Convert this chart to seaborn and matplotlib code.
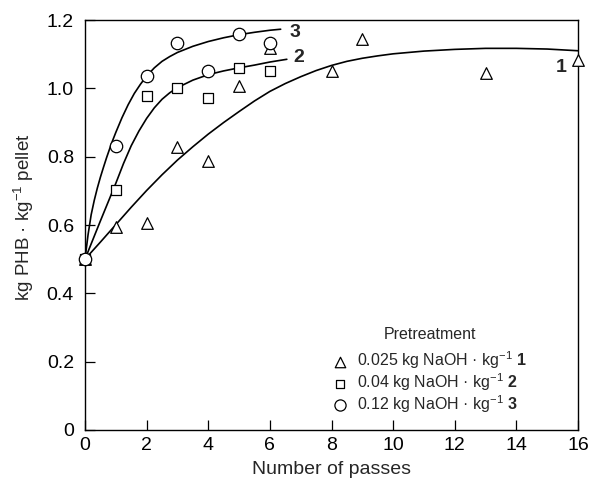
import matplotlib
matplotlib.use("Agg")
import matplotlib.pyplot as plt
import pandas as pd
import seaborn as sns

# Measured PHB yield after each homogenizer pass, per NaOH pretreatment
passes_1 = [0, 1, 2, 3, 4, 5, 6, 8, 9, 13, 16]
phb_1 = [0.50, 0.595, 0.605, 0.829, 0.786, 1.008, 1.117, 1.051, 1.144, 1.044, 1.083]
passes_2 = [0, 1, 2, 3, 4, 5, 6]
phb_2 = [0.50, 0.702, 0.978, 1.000, 0.973, 1.060, 1.051]
passes_3 = [0, 1, 2, 3, 4, 5, 6]
phb_3 = [0.50, 0.832, 1.036, 1.132, 1.051, 1.158, 1.132]

# Trend curves drawn through each series
trend_x_1 = [0, 0.5, 1.0, 1.5, 2.0, 2.5, 3.0, 3.5, 4.0, 4.5, 5.0, 5.5, 6.0, 6.5,
             7.0, 7.5, 8.0, 8.5, 9.0, 9.5, 10.0, 11.0, 12.0, 13.0, 14.0, 15.0, 16.0]
trend_y_1 = [0.500, 0.550, 0.601, 0.652, 0.701, 0.747, 0.790, 0.829, 0.866, 0.900,
             0.932, 0.963, 0.991, 1.014, 1.034, 1.052, 1.067, 1.079, 1.088, 1.095,
             1.101, 1.109, 1.114, 1.117, 1.117, 1.115, 1.110]
trend_x_2 = [0, 0.25, 0.5, 0.75, 1.0, 1.25, 1.5, 1.75, 2.0, 2.25, 2.5, 2.75, 3.0,
             3.5, 4.0, 4.5, 5.0, 5.5, 6.0, 6.55]
trend_y_2 = [0.500, 0.556, 0.612, 0.667, 0.722, 0.780, 0.832, 0.875, 0.912, 0.943,
             0.968, 0.987, 1.002, 1.024, 1.040, 1.051, 1.060, 1.068, 1.077, 1.085]
trend_x_3 = [0, 0.1, 0.2, 0.3, 0.4, 0.5, 0.6, 0.7, 0.8, 0.9, 1.0, 1.2, 1.4, 1.6,
             1.8, 2.0, 2.25, 2.5, 2.75, 3.0, 3.5, 4.0, 4.5, 5.0, 5.5, 6.0, 6.35]
trend_y_3 = [0.500, 0.572, 0.630, 0.672, 0.708, 0.740, 0.769, 0.797, 0.823, 0.848,
             0.871, 0.914, 0.952, 0.985, 1.012, 1.036, 1.060, 1.079, 1.093, 1.105,
             1.123, 1.137, 1.148, 1.157, 1.164, 1.170, 1.173]

legend_title = "Pretreatment"
legend_labels = [
    r"0.025 kg NaOH · kg$^{-1}$ $\mathbf{1}$",
    r"0.04 kg NaOH · kg$^{-1}$ $\mathbf{2}$",
    r"0.12 kg NaOH · kg$^{-1}$ $\mathbf{3}$",
]
curve_names = ["1", "2", "3"]
curve_name_x = [15.45, 6.95, 6.8]
curve_name_y = [1.06, 1.089, 1.162]

x_ticks = [0, 2, 4, 6, 8, 10, 12, 14, 16]
y_ticks = [0, 0.2, 0.4, 0.6, 0.8, 1.0, 1.2]
y_tick_labels = ["0", "0.2", "0.4", "0.6", "0.8", "1.0", "1.2"]

sns.set_style("ticks")
plt.rcParams["font.family"] = ["Liberation Sans", "DejaVu Sans"]
plt.rcParams["mathtext.fontset"] = "custom"
plt.rcParams["mathtext.rm"] = "Liberation Sans"
plt.rcParams["mathtext.it"] = "Liberation Sans:italic"
plt.rcParams["mathtext.bf"] = "Liberation Sans:bold"

fig = plt.figure(figsize=(5.98, 4.80), dpi=100)
ax = fig.add_axes([85 / 598, 50 / 480, 493 / 598, 410 / 480])

trends = [
    pd.DataFrame({"x": trend_x_1, "y": trend_y_1}),
    pd.DataFrame({"x": trend_x_2, "y": trend_y_2}),
    pd.DataFrame({"x": trend_x_3, "y": trend_y_3}),
]
for df in trends:
    sns.lineplot(data=df, x="x", y="y", ax=ax, color="black", linewidth=1.2,
                 sort=False, estimator=None, zorder=3)

series = [
    (pd.DataFrame({"x": passes_1, "y": phb_1}), "^", 70),
    (pd.DataFrame({"x": passes_2, "y": phb_2}), "s", 46),
    (pd.DataFrame({"x": passes_3, "y": phb_3}), "o", 80),
]
for (df, mk, size), lab in zip(series, legend_labels):
    sns.scatterplot(data=df, x="x", y="y", ax=ax, marker=mk, s=size,
                    facecolor="white", edgecolor="black", linewidth=0.9,
                    label=lab, zorder=5, clip_on=False)

for name, cx, cy in zip(curve_names, curve_name_x, curve_name_y):
    ax.text(cx, cy, name, fontsize=14, fontweight="bold", ha="center", va="center")

ax.set_xlim(0, 16)
ax.set_ylim(0, 1.2)
ax.set_xticks(x_ticks)
ax.set_xticklabels([str(t) for t in x_ticks])
ax.set_yticks(y_ticks)
ax.set_yticklabels(y_tick_labels)
ax.tick_params(direction="in", length=7, width=0.9, labelsize=14, colors="black")
ax.tick_params(axis="y", pad=8)
ax.tick_params(axis="x", pad=5)
for sp in ax.spines.values():
    sp.set_visible(True)
    sp.set_linewidth(1.0)
    sp.set_color("black")

ax.set_xlabel("Number of passes", fontsize=14, labelpad=5)
ax.set_ylabel(r"kg PHB · kg$^{-1}$ pellet", fontsize=13.5)
ax.yaxis.set_label_coords(-0.1, 0.52)

# Legend title placed on its own, entries below it
ax.text(0.70, 0.234, legend_title, transform=ax.transAxes, fontsize=11.5,
        ha="center", va="center")
ax.legend(loc="upper left", bbox_to_anchor=(0.491, 0.204), frameon=False,
          fontsize=11.5, handletextpad=0.5, labelspacing=0.0, borderpad=0.2,
          handlelength=1.2, markerscale=0.9, borderaxespad=0.0)

fig.savefig("out.png", dpi=100, facecolor="white")
